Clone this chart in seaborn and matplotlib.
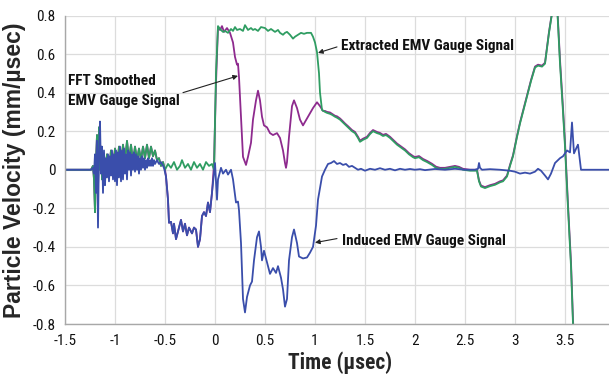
import matplotlib
matplotlib.use("Agg")
import matplotlib.pyplot as plt
import pandas as pd
import seaborn as sns
from matplotlib import font_manager
from matplotlib.font_manager import FontProperties

# ---------------- data ----------------
green_t = [-1.5, -1.24, -1.22, -1.21, -1.20, -1.19, -1.18, -1.17, -1.16, -1.15, -1.14, -1.13, -1.12, -1.10,
           -1.08, -1.06, -1.04, -1.02, -1.00, -0.98, -0.96, -0.94, -0.92, -0.90, -0.88, -0.86, -0.84, -0.82,
           -0.80, -0.78, -0.76, -0.74, -0.72, -0.70, -0.68, -0.66, -0.64, -0.62, -0.60, -0.58, -0.56, -0.54,
           -0.52, -0.50, -0.47, -0.44, -0.41, -0.38, -0.35, -0.33, -0.30, -0.27, -0.24, -0.21, -0.18, -0.15,
           -0.12, -0.09, -0.06, -0.03, -0.01, 0.01, 0.03, 0.05, 0.08, 0.10, 0.13, 0.16, 0.18, 0.20, 0.22,
           0.25, 0.28, 0.30, 0.33, 0.36, 0.38, 0.40, 0.43, 0.46, 0.50, 0.53, 0.56, 0.60, 0.63, 0.65, 0.68,
           0.70, 0.72, 0.75, 0.78, 0.80, 0.83, 0.86, 0.89, 0.92, 0.96, 0.98, 1.00, 1.02, 1.04, 1.05, 1.07,
           1.10, 1.12, 1.15, 1.17, 1.20, 1.22, 1.25, 1.27, 1.30, 1.33, 1.37, 1.40, 1.43, 1.45, 1.48, 1.52,
           1.55, 1.58, 1.62, 1.65, 1.68, 1.71, 1.75, 1.78, 1.82, 1.86, 1.90, 1.94, 1.98, 2.00, 2.04, 2.08,
           2.12, 2.17, 2.21, 2.25, 2.30, 2.35, 2.40, 2.44, 2.48, 2.55, 2.62, 2.64, 2.66, 2.70, 2.75, 2.80,
           2.85, 2.88, 2.92, 2.95, 2.98, 3.02, 3.05, 3.09, 3.12, 3.16, 3.20, 3.23, 3.27, 3.30, 3.32, 3.34,
           3.37, 3.40, 3.42, 3.45, 3.48, 3.50, 3.53, 3.56, 3.58, 3.60]
green_v = [0.0, 0.0, 0.02, -0.05, -0.22, 0.05, 0.18, -0.10, 0.22, 0.0, 0.12, -0.05, 0.08, -0.02,
           0.08, 0.0, 0.10, 0.01, 0.11, 0.02, 0.12, 0.03, 0.13, 0.04, 0.15, 0.05, 0.13, 0.04,
           0.12, 0.05, 0.11, 0.05, 0.12, 0.06, 0.13, 0.06, 0.12, 0.07, 0.10, 0.05, 0.06, 0.02,
           0.04, 0.0, 0.03, 0.01, 0.04, 0.0, 0.02, 0.05, 0.01, 0.03, 0.0, 0.04, 0.01, 0.03,
           0.0, 0.04, 0.02, 0.03, 0.0, 0.5, 0.745, 0.73, 0.715, 0.72, 0.71, 0.73, 0.72, 0.74, 0.725,
           0.73, 0.72, 0.75, 0.725, 0.735, 0.725, 0.73, 0.72, 0.74, 0.735, 0.72, 0.73, 0.715, 0.725, 0.71, 0.70,
           0.71, 0.715, 0.70, 0.68, 0.69, 0.70, 0.71, 0.705, 0.71, 0.71, 0.69, 0.66, 0.61, 0.50, 0.40, 0.31,
           0.30, 0.295, 0.29, 0.285, 0.275, 0.27, 0.26, 0.25, 0.235, 0.22, 0.20, 0.19, 0.165, 0.145, 0.155, 0.165,
           0.185, 0.20, 0.19, 0.185, 0.175, 0.18, 0.165, 0.15, 0.13, 0.115, 0.10, 0.08, 0.065, 0.06, 0.065, 0.05,
           0.04, 0.025, 0.01, 0.005, 0.005, 0.01, 0.015, 0.01, 0.0, -0.005, -0.005, -0.06, -0.087, -0.095, -0.085, -0.078,
           -0.065, -0.06, -0.035, 0.02, 0.07, 0.17, 0.24, 0.32, 0.38, 0.46, 0.53, 0.54, 0.535, 0.55, 0.63, 0.71,
           0.81, 0.88, 0.86, 0.55, 0.30, 0.12, -0.20, -0.50, -0.80, -1.0]

purple_t = [-1.5, -1.24, -1.22, -1.21, -1.20, -1.19, -1.18, -1.17, -1.16, -1.15, -1.14, -1.13, -1.12, -1.10,
            -1.08, -1.06, -1.04, -1.02, -1.00, -0.98, -0.96, -0.94, -0.92, -0.90, -0.88, -0.86, -0.84, -0.82,
            -0.80, -0.78, -0.76, -0.74, -0.72, -0.70, -0.68, -0.66, -0.64, -0.62, -0.60, -0.58, -0.56, -0.54,
            -0.52, -0.50, -0.49, -0.47, -0.46, -0.44, -0.42, -0.41, -0.39, -0.37, -0.34, -0.32, -0.30, -0.28,
            -0.26, -0.23, -0.21, -0.19, -0.17, -0.15, -0.13, -0.11, -0.09, -0.07, -0.05, -0.03, -0.01, 0.01,
            0.03, 0.05, 0.07, 0.09, 0.12, 0.15, 0.18, 0.20, 0.22, 0.23, 0.24, 0.25, 0.27, 0.28, 0.31, 0.33,
            0.36, 0.38, 0.41, 0.43, 0.45, 0.47, 0.49, 0.52, 0.55, 0.58, 0.62, 0.65, 0.68, 0.70, 0.71, 0.72,
            0.74, 0.77, 0.79, 0.82, 0.85, 0.88, 0.93, 0.98, 1.02, 1.05, 1.08, 1.10,
            1.12, 1.15, 1.17, 1.20, 1.22, 1.25, 1.27, 1.30, 1.33, 1.37, 1.40, 1.43, 1.45, 1.48, 1.52,
            1.55, 1.58, 1.62, 1.65, 1.68, 1.71, 1.75, 1.78, 1.82, 1.86, 1.90, 1.94, 1.98, 2.00, 2.04, 2.08,
            2.12, 2.17, 2.21, 2.25, 2.30, 2.35, 2.40, 2.44, 2.48, 2.55, 2.62, 2.64, 2.66, 2.70, 2.75, 2.80,
            2.85, 2.88, 2.92, 2.95, 2.98, 3.02, 3.05, 3.09, 3.12, 3.16, 3.20, 3.23, 3.27, 3.30, 3.32, 3.34,
            3.37, 3.40, 3.42, 3.45, 3.48, 3.50, 3.53, 3.56, 3.58, 3.60]
purple_v = [0.0, 0.0, 0.02, -0.05, -0.22, 0.05, 0.18, -0.10, 0.22, 0.0, 0.12, -0.05, 0.08, -0.02,
            0.08, 0.0, 0.10, 0.01, 0.11, 0.02, 0.12, 0.03, 0.13, 0.04, 0.15, 0.05, 0.13, 0.04,
            0.12, 0.05, 0.11, 0.05, 0.12, 0.06, 0.13, 0.06, 0.12, 0.07, 0.10, 0.05, 0.06, 0.02,
            0.04, 0.0, -0.035, -0.155, -0.275, -0.27, -0.33, -0.28, -0.36, -0.32, -0.26, -0.32, -0.28, -0.34,
            -0.30, -0.33, -0.30, -0.31, -0.40, -0.36, -0.24, -0.22, -0.24, -0.17, -0.22, -0.12, 0.03, 0.45,
            0.74, 0.725, 0.745, 0.715, 0.735, 0.71, 0.66, 0.585, 0.545, 0.55, 0.48, 0.38, 0.17, 0.067, 0.025, 0.067,
            0.14, 0.26, 0.36, 0.41, 0.36, 0.275, 0.23, 0.22, 0.19, 0.18, 0.19, 0.165, 0.10, 0.035, 0.01, 0.04,
            0.17, 0.33, 0.36, 0.32, 0.26, 0.23, 0.275, 0.32, 0.35, 0.33, 0.305, 0.305,
            0.30, 0.297, 0.29, 0.28, 0.277, 0.266, 0.256, 0.24, 0.226, 0.206, 0.196, 0.171, 0.151, 0.161, 0.171,
            0.191, 0.206, 0.196, 0.191, 0.181, 0.186, 0.171, 0.156, 0.136, 0.121, 0.106, 0.086, 0.071, 0.066, 0.071, 0.056,
            0.046, 0.031, 0.016, 0.01, 0.01, 0.015, 0.02, 0.015, 0.005, 0.0, 0.0, -0.055, -0.082, -0.09, -0.08, -0.073,
            -0.06, -0.055, -0.03, 0.025, 0.075, 0.175, 0.245, 0.325, 0.385, 0.465, 0.535, 0.545, 0.54, 0.555, 0.635, 0.715,
            0.815, 0.885, 0.87, 0.57, 0.32, 0.14, -0.18, -0.48, -0.78, -0.98]

blue_t = [-1.5, -1.24, -1.22, -1.21, -1.20, -1.19, -1.18, -1.17, -1.16, -1.15, -1.14, -1.13, -1.12, -1.11,
          -1.10, -1.09, -1.08, -1.07, -1.06, -1.05, -1.04, -1.03, -1.02, -1.01, -1.00, -0.99, -0.98, -0.97,
          -0.96, -0.95, -0.94, -0.93, -0.92, -0.91, -0.90, -0.89, -0.88, -0.87, -0.86, -0.85, -0.84, -0.83,
          -0.82, -0.81, -0.80, -0.79, -0.78, -0.77, -0.76, -0.75, -0.74, -0.73, -0.72, -0.71, -0.70, -0.69,
          -0.68, -0.67, -0.66, -0.65, -0.64, -0.63, -0.62, -0.61, -0.60, -0.58, -0.56, -0.54, -0.52, -0.51,
          -0.49, -0.47, -0.46, -0.44, -0.42, -0.41, -0.39, -0.37, -0.34, -0.32, -0.30, -0.28, -0.26, -0.23,
          -0.21, -0.19, -0.17, -0.15, -0.13, -0.11, -0.09, -0.07, -0.05, -0.03, -0.01, 0.00, 0.02, 0.03,
          0.06, 0.08, 0.11, 0.13, 0.16, 0.18, 0.21, 0.23, 0.24, 0.26, 0.28, 0.30, 0.32, 0.35, 0.37, 0.39,
          0.42, 0.44, 0.46, 0.47, 0.49, 0.52, 0.55, 0.58, 0.61, 0.63, 0.66, 0.68, 0.70, 0.72, 0.74, 0.77,
          0.79, 0.82, 0.84, 0.88, 0.92, 0.95, 0.98, 1.01, 1.03, 1.07, 1.10, 1.13, 1.16, 1.19, 1.22, 1.25,
          1.28, 1.31, 1.34, 1.37, 1.40, 1.43, 1.46, 1.50, 1.55, 1.60, 1.65, 1.70, 1.75, 1.80, 1.85, 1.90,
          1.95, 2.00, 2.05, 2.10, 2.20, 2.30, 2.40, 2.50, 2.60, 2.63, 2.64, 2.65, 2.67, 2.75, 2.85, 2.95,
          3.00, 3.05, 3.10, 3.15, 3.20, 3.23, 3.26, 3.30, 3.33, 3.36, 3.40, 3.43, 3.45, 3.48, 3.52, 3.55,
          3.57, 3.59, 3.62, 3.63, 3.66, 3.94]
blue_v = [0.0, 0.0, 0.01, -0.02, 0.08, -0.12, 0.15, -0.30, 0.10, 0.25, -0.02, 0.12, -0.12, 0.10,
          -0.08, 0.06, -0.04, 0.08, -0.06, 0.07, -0.03, 0.10, -0.05, 0.08, -0.06, 0.10, -0.08, 0.09,
          -0.04, 0.12, -0.06, 0.10, -0.05, 0.11, -0.02, 0.08, -0.05, 0.10, 0.0, 0.09, -0.03, 0.08,
          0.0, 0.09, -0.01, 0.08, 0.0, 0.07, -0.02, 0.06, 0.0, 0.07, 0.01, 0.06, 0.0, 0.05,
          0.01, 0.06, 0.02, 0.05, 0.02, 0.06, 0.02, 0.05, 0.03, 0.05, 0.03, 0.04, 0.02, 0.01,
          -0.035, -0.155, -0.275, -0.27, -0.33, -0.28, -0.36, -0.32, -0.26, -0.32, -0.28, -0.34, -0.30, -0.33,
          -0.30, -0.31, -0.40, -0.36, -0.24, -0.22, -0.24, -0.17, -0.22, -0.12, -0.02, 0.035, -0.155, -0.05,
          0.01, -0.02, 0.0, -0.025, 0.0, -0.05, -0.17, -0.165, -0.21, -0.38, -0.67, -0.74, -0.66, -0.60, -0.58, -0.47,
          -0.35, -0.32, -0.40, -0.47, -0.42, -0.48, -0.54, -0.51, -0.535, -0.50, -0.56, -0.62, -0.71, -0.67, -0.47, -0.35,
          -0.31, -0.38, -0.45, -0.46, -0.455, -0.43, -0.40, -0.29, -0.155, -0.035, 0.0, 0.03, 0.035, 0.045, 0.03, 0.035,
          0.025, 0.03, 0.015, 0.02, 0.01, 0.0, 0.005, -0.005, 0.005, 0.0, 0.008, 0.0, 0.005, -0.003, 0.005, 0.0,
          0.004, 0.0, 0.003, -0.002, 0.004, 0.0, 0.005, 0.0, 0.0, 0.005, 0.035, 0.01, 0.0, 0.003, 0.0, -0.005,
          -0.01, -0.02, -0.015, -0.02, -0.01, 0.005, -0.005, -0.03, -0.05, -0.02, 0.035, 0.05, 0.06, 0.07, 0.10, 0.09,
          0.245, 0.085, 0.12, 0.13, 0.0, 0.0]

x_ticks = [-1.5, -1, -0.5, 0, 0.5, 1, 1.5, 2, 2.5, 3, 3.5]
x_tick_labels = ["-1.5", "-1", "-0.5", "0", "0.5", "1", "1.5", "2", "2.5", "3", "3.5"]
y_ticks = [-0.8, -0.6, -0.4, -0.2, 0, 0.2, 0.4, 0.6, 0.8]
y_tick_labels = ["-0.8", "-0.6", "-0.4", "-0.2", "0", "0.2", "0.4", "0.6", "0.8"]

# ---------------- fonts: look for a narrow / condensed sans ----------------
sns.set_style("white")
plt.rcParams["font.family"] = ["Liberation Sans", "DejaVu Sans"]
plt.rcParams["axes.unicode_minus"] = False


def _is_bold(f):
    w = f.weight
    if isinstance(w, str):
        return w in ("bold", "heavy", "extra bold", "black", "demibold", "semibold")
    return w >= 600


def find_narrow(bold):
    prefs = ["liberation sans narrow", "arial narrow", "roboto condensed",
             "open sans condensed", "dejavu sans condensed", "noto sans condensed"]
    cands = []
    for f in font_manager.fontManager.ttflist:
        n = f.name.lower()
        fn = f.fname.lower()
        narrowish = ("narrow" in n or "condensed" in n or "narrow" in fn or "condensed" in fn
                     or f.stretch in ("condensed", "semi-condensed"))
        if not narrowish or "mono" in n or "serif" in n or "mono" in fn or "serif" in fn:
            continue
        if f.style != "normal":
            continue
        if _is_bold(f) != bold:
            continue
        if not bold and isinstance(f.weight, int) and f.weight < 400:
            continue
        key = n + " " + fn
        rank = len(prefs)
        for i, p in enumerate(prefs):
            if p in key or p.replace(" ", "") in key.replace(" ", "").replace("-", ""):
                rank = i
                break
        cands.append((rank, f.fname))
    cands.sort()
    return cands[0][1] if cands else None


reg_file = find_narrow(False)
bold_file = find_narrow(True)
SCALE = 1.0
if reg_file and bold_file:
    FP_REG = FontProperties(fname=reg_file)
    FP_BOLD = FontProperties(fname=bold_file)
else:
    FP_REG = FontProperties(family=["Liberation Sans", "DejaVu Sans"])
    FP_BOLD = FontProperties(family=["Liberation Sans", "DejaVu Sans"], weight="bold")
    SCALE = 0.85


def fp(base, size):
    p = base.copy()
    p.set_size(size * SCALE)
    return p


GREEN = "#2f9d62"
PURPLE = "#8e2a8e"
BLUE = "#3a4eab"

fig = plt.figure(figsize=(6.09, 3.75), dpi=100)
ax = fig.add_axes([65 / 609, 51 / 375, 544 / 609, 308.5 / 375])

df_p = pd.DataFrame({"t": purple_t, "v": purple_v})
df_g = pd.DataFrame({"t": green_t, "v": green_v})
df_b = pd.DataFrame({"t": blue_t, "v": blue_v})

kw = dict(x="t", y="v", estimator=None, sort=False, ax=ax, linewidth=1.3)
sns.lineplot(data=df_p, color=PURPLE, **kw)
sns.lineplot(data=df_g, color=GREEN, **kw)
sns.lineplot(data=df_b, color=BLUE, **kw)

ax.set_xlim(-1.5, 3.94)
ax.set_ylim(-0.8, 0.8)
ax.set_xticks(x_ticks)
ax.set_xticklabels(x_tick_labels, fontproperties=fp(FP_REG, 11))
ax.set_yticks(y_ticks)
ax.set_yticklabels(y_tick_labels, fontproperties=fp(FP_REG, 11))
ax.tick_params(length=0, colors="#111111", pad=7)
ax.grid(True, color="#dcdcdc", linewidth=0.9)
ax.set_axisbelow(True)
for s in ["top", "right"]:
    ax.spines[s].set_visible(False)
for s in ["left", "bottom"]:
    ax.spines[s].set_color("#a8a8a8")
    ax.spines[s].set_linewidth(1.0)

ax.set_xlabel("Time (µsec)", fontproperties=fp(FP_BOLD, 15.5))
ax.xaxis.set_label_coords(0.505, -0.088)
ax.set_ylabel("Particle Velocity (mm/µsec)", fontsize=16.5, fontweight="bold",
              family=["Liberation Sans", "DejaVu Sans"])
ax.yaxis.set_label_coords(-0.072, 0.5)

txt_kw = dict(color="#111111", va="center", ha="left", fontproperties=fp(FP_BOLD, 11))
arr = dict(arrowstyle="-|>", color="#222222", lw=0.8, mutation_scale=7, shrinkA=0, shrinkB=0)

ax.text(1.26, 0.643, "Extracted EMV Gauge Signal", **txt_kw)
ax.annotate("", xy=(1.03, 0.606), xytext=(1.22, 0.637), arrowprops=arr)

ax.text(-1.47, 0.41, "FFT Smoothed\nEMV Gauge Signal", linespacing=1.55, **txt_kw)
ax.annotate("", xy=(0.23, 0.487), xytext=(-0.32, 0.40), arrowprops=arr)

ax.text(1.27, -0.368, "Induced EMV Gauge Signal", **txt_kw)
ax.annotate("", xy=(1.0, -0.378), xytext=(1.22, -0.357), arrowprops=arr)

fig.savefig("out.png", dpi=100)
